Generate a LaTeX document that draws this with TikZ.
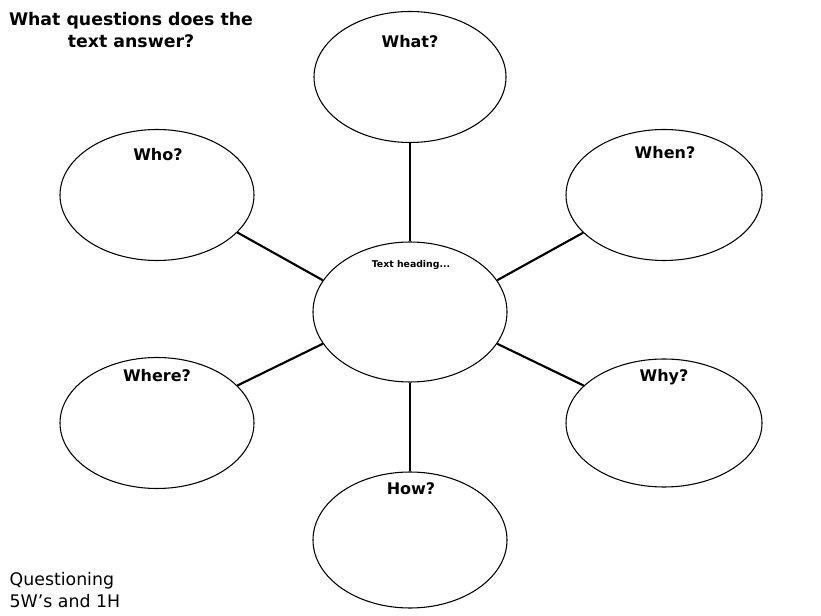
\documentclass[tikz,border=0pt]{standalone}
\usepackage{fontspec}
\setmainfont{DejaVu Sans}
\usetikzlibrary{shapes.geometric}
\begin{document}
\begin{tikzpicture}[x=0.75pt,y=-0.75pt,
  bub/.style={draw,line width=0.8pt,ellipse,inner sep=0pt},
  lab/.style={font=\fontsize{12}{14}\selectfont\bfseries},
  conn/.style={line width=1.6pt}]
\useasboundingbox (0,0) rectangle (821,616);
\node[bub,minimum width=192*0.75pt,minimum height=131*0.75pt] (what) at (410,77) {};
\node[bub,minimum width=194*0.75pt,minimum height=131*0.75pt] (who) at (157,195) {};
\node[bub,minimum width=196*0.75pt,minimum height=131*0.75pt] (when) at (664,195) {};
\node[bub,minimum width=194*0.75pt,minimum height=140*0.75pt] (ctr) at (410,312) {};
\node[bub,minimum width=194*0.75pt,minimum height=131*0.75pt] (where) at (157,423) {};
\node[bub,minimum width=196*0.75pt,minimum height=128*0.75pt] (why) at (664,423) {};
\node[bub,minimum width=194*0.75pt,minimum height=136*0.75pt] (how) at (410,540) {};
\draw[conn] (what) -- (ctr);
\draw[conn] (ctr) -- (how);
\draw[conn] (who.-25) -- (ctr.160);
\draw[conn] (when.205) -- (ctr.20);
\draw[conn] (where.25) -- (ctr.200);
\draw[conn] (why.155) -- (ctr.-20);
\node[lab] (lwhat) at (410,42) {What?};
\node[lab] (lwho) at (158,155) {Who?};
\node[lab] (lwhen) at (665,153) {When?};
\node[lab] (lwhere) at (157,376) {Where?};
\node[lab] (lwhy) at (664,377) {Why?};
\node[lab] (lhow) at (411,489) {How?};
\node[font=\fontsize{7}{8}\selectfont\bfseries] (lctr) at (411,265) {Text heading...};
\node[font=\fontsize{13}{16}\selectfont\bfseries,align=center] (title) at (131,30) {What questions does the\\text answer?};
\node[font=\fontsize{13}{16}\selectfont,align=left,anchor=south west] (foot) at (5,612) {Questioning\\5W's and 1H};
\end{tikzpicture}
\end{document}
